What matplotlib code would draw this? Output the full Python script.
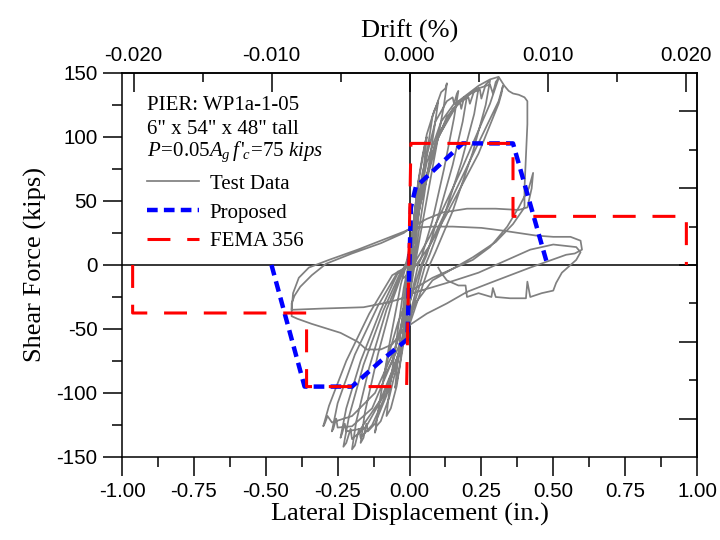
import matplotlib
matplotlib.use("Agg")
import matplotlib.pyplot as plt
from matplotlib.lines import Line2D
from matplotlib.ticker import MultipleLocator, FixedLocator, FormatStrFormatter

plt.rcParams['axes.unicode_minus'] = False
plt.rcParams['mathtext.fontset'] = 'custom'
plt.rcParams['mathtext.rm'] = 'Liberation Serif'
plt.rcParams['mathtext.it'] = 'Liberation Serif:italic'

# ---------------- data ----------------
wall_height_in = 48.0

# hysteresis test data, cycle by cycle (displacement in., force kips)
cycle_01 = [(0.000, 0), (0.008, 20), (0.018, 42), (0.028, 60), (0.032, 66), (0.020, 35), (0.008, 5),
            (0.000, -12), (-0.008, -30), (-0.018, -52), (-0.024, -60), (-0.014, -30), (-0.004, -8), (0.002, 4)]
cycle_02 = [(0.002, 4), (0.015, 35), (0.030, 65), (0.045, 85), (0.055, 96), (0.060, 100), (0.045, 65),
            (0.025, 25), (0.010, 0), (-0.005, -25), (-0.020, -55), (-0.035, -80), (-0.045, -92),
            (-0.050, -96), (-0.035, -62), (-0.018, -25), (-0.004, -2)]
cycle_03 = [(-0.004, -2), (0.012, 28), (0.035, 70), (0.060, 102), (0.085, 120), (0.095, 125), (0.100, 128),
            (0.085, 105), (0.060, 68), (0.035, 30), (0.015, 0), (-0.002, -25), (-0.020, -60), (-0.045, -95),
            (-0.065, -112), (-0.080, -118), (-0.070, -98), (-0.045, -58), (-0.020, -18), (-0.002, 2)]
cycle_04 = [(-0.002, 2), (0.010, 12), (0.035, 50), (0.080, 116), (0.110, 135), (0.125, 138), (0.130, 142),
            (0.120, 125), (0.090, 88), (0.055, 45), (0.025, 8), (0.018, 0), (0.000, -25), (-0.030, -65),
            (-0.070, -103), (-0.100, -122), (-0.115, -126), (-0.120, -131), (-0.105, -108), (-0.070, -62),
            (-0.030, -15), (-0.005, 5)]
cycle_05 = [(-0.005, 5), (0.015, 30), (0.045, 72), (0.090, 112), (0.130, 128), (0.150, 131), (0.155, 126),
            (0.165, 134), (0.170, 136), (0.155, 115), (0.120, 75), (0.080, 35), (0.040, 5), (0.030, 0),
            (0.005, -25), (-0.030, -62), (-0.080, -102), (-0.120, -124), (-0.145, -130), (-0.150, -124),
            (-0.160, -135), (-0.170, -139), (-0.155, -115), (-0.110, -70), (-0.060, -28), (-0.010, 3)]
cycle_06 = [(-0.010, 3), (0.020, 35), (0.060, 80), (0.110, 112), (0.155, 126), (0.175, 128), (0.180, 122),
            (0.190, 131), (0.200, 132), (0.185, 112), (0.150, 78), (0.100, 38), (0.060, 8), (0.045, 0),
            (0.020, -22), (-0.020, -58), (-0.080, -100), (-0.130, -125), (-0.170, -135), (-0.175, -128),
            (-0.190, -141), (-0.200, -144), (-0.185, -122), (-0.140, -80), (-0.080, -35), (-0.020, -2), (0.000, 2)]
cycle_07 = [(0.000, 2), (0.030, 40), (0.080, 88), (0.130, 116), (0.180, 128), (0.205, 131), (0.210, 126),
            (0.225, 136), (0.240, 138), (0.225, 118), (0.180, 80), (0.120, 38), (0.070, 8), (0.055, 0),
            (0.030, -20), (-0.020, -58), (-0.090, -102), (-0.150, -126), (-0.200, -136), (-0.205, -128),
            (-0.220, -139), (-0.230, -142), (-0.210, -118), (-0.160, -78), (-0.090, -35), (-0.030, -5), (0.000, 0)]
cycle_08 = [(0.000, 0), (0.030, 42), (0.090, 95), (0.150, 122), (0.210, 134), (0.245, 137), (0.250, 130),
            (0.265, 141), (0.280, 144), (0.265, 125), (0.220, 88), (0.150, 42), (0.090, 10), (0.070, 0),
            (0.040, -20), (-0.020, -60), (-0.100, -105), (-0.170, -128), (-0.220, -130), (-0.225, -124),
            (-0.235, -132), (-0.240, -135), (-0.220, -112), (-0.170, -75), (-0.100, -35), (-0.040, -6), (0.000, 0)]
cycle_09 = [(0.000, 0), (0.040, 50), (0.100, 100), (0.170, 127), (0.240, 138), (0.280, 141), (0.290, 134),
            (0.300, 143), (0.310, 146), (0.280, 126), (0.180, 74), (0.070, 22), (0.024, 4), (0.015, 0),
            (-0.010, -30), (-0.060, -75), (-0.130, -112), (-0.200, -126), (-0.250, -127), (-0.255, -120),
            (-0.265, -128), (-0.270, -130), (-0.250, -108), (-0.190, -70), (-0.110, -32), (-0.040, -5), (-0.020, -10)]
cycle_10 = [(-0.020, -10), (0.010, -4), (0.070, 15), (0.130, 40), (0.240, 87), (0.310, 126), (0.320, 134),
            (0.325, 140), (0.310, 128), (0.250, 100), (0.160, 58), (0.080, 20), (0.040, 0), (0.000, -30),
            (-0.050, -65), (-0.120, -100), (-0.200, -118), (-0.270, -123), (-0.285, -118), (-0.295, -124),
            (-0.300, -126), (-0.280, -110), (-0.220, -75), (-0.140, -38), (-0.060, -8), (0.000, 0)]
cycle_11 = [(0.000, 0), (0.040, 55), (0.100, 102), (0.170, 128), (0.240, 140), (0.280, 145), (0.310, 147),
            (0.330, 140), (0.345, 136), (0.360, 134), (0.380, 133), (0.400, 131), (0.410, 128), (0.410, 110),
            (0.405, 85), (0.400, 60), (0.400, 45), (0.360, 32), (0.300, 18), (0.220, 6), (0.150, -3),
            (0.080, -12), (0.020, -30), (-0.020, -50), (-0.060, -62), (-0.100, -66), (-0.150, -66),
            (-0.180, -60), (-0.240, -53), (-0.340, -46), (-0.390, -42), (-0.410, -40)]
cycle_12 = [(-0.410, -40), (-0.410, -30), (-0.400, -24), (-0.380, -17), (-0.340, -8), (-0.290, 1),
            (-0.200, 9), (-0.100, 17), (-0.020, 25), (0.010, 30), (0.060, 36), (0.115, 41), (0.200, 44),
            (0.300, 44), (0.380, 43), (0.410, 45), (0.425, 60), (0.430, 72), (0.415, 60), (0.380, 45),
            (0.340, 30), (0.280, 14), (0.220, 4), (0.160, -2), (0.080, -10), (0.020, -18), (-0.010, -25),
            (-0.070, -29), (-0.160, -33), (-0.300, -34), (-0.410, -35)]
cycle_13 = [(-0.410, -35), (-0.405, -22), (-0.385, -10), (-0.350, -2), (-0.280, 4), (-0.180, 12),
            (-0.100, 19), (-0.020, 26), (0.010, 29), (0.080, 30), (0.150, 30), (0.250, 29), (0.320, 27),
            (0.440, 23), (0.500, 22), (0.560, 22), (0.595, 19), (0.600, 12), (0.575, 9), (0.545, 8),
            (0.420, -2), (0.280, -14), (0.200, -21), (0.130, -30), (0.060, -38), (0.000, -47),
            (-0.030, -60), (-0.060, -75), (-0.090, -88)]
cycle_14 = [(-0.090, -88), (-0.070, -68), (-0.040, -45), (-0.010, -28), (0.010, -22), (0.070, -18),
            (0.130, -14), (0.240, -6), (0.340, 4), (0.420, 12), (0.500, 16), (0.580, 14), (0.595, 10),
            (0.580, 4), (0.530, -6), (0.510, -14), (0.500, -20), (0.460, -22), (0.420, -25), (0.410, -13),
            (0.405, -26), (0.350, -26), (0.300, -25), (0.290, -18), (0.285, -25), (0.240, -22),
            (0.200, -25), (0.195, -16), (0.170, -16), (0.130, -12), (0.110, -6), (0.100, -2)]

test_cycles = [cycle_01, cycle_02, cycle_03, cycle_04, cycle_05, cycle_06, cycle_07,
               cycle_08, cycle_09, cycle_10, cycle_11, cycle_12, cycle_13, cycle_14]

# Proposed backbone
proposed_x = [-0.480, -0.365, -0.200, -0.100, -0.007, 0.005, 0.022, 0.185, 0.360, 0.480]
proposed_y = [0, -95, -95, -75, -58, 45, 61, 95, 95, 0]

# FEMA 356 backbone
fema_x = [-0.963, -0.963, -0.358, -0.358, -0.010, 0.005, 0.360, 0.360, 0.963, 0.963]
fema_y = [0, -37.5, -37.5, -95, -95, 95, 95, 38, 38, 0]

x_ticks = [-1.00, -0.75, -0.50, -0.25, 0.00, 0.25, 0.50, 0.75, 1.00]
y_ticks = [-150, -100, -50, 0, 50, 100, 150]
drift_ticks = [-0.020, -0.010, 0.000, 0.010, 0.020]

info_lines = ['PIER: WP1a-1-05', '6" x 54" x 48" tall']
legend_labels = ['Test Data', 'Proposed', 'FEMA 356']

# ---------------- figure ----------------
fig = plt.figure(figsize=(7.2, 5.4), dpi=100)
ax = fig.add_axes([122 / 720, 1 - 457 / 540, (697 - 122) / 720, (457 - 73) / 540])

ax.axhline(0, color='black', lw=1.1, zorder=1)
ax.axvline(0, color='black', lw=1.1, zorder=1)

test_x = [p[0] for c in test_cycles for p in c]
test_y = [p[1] for c in test_cycles for p in c]
ax.plot(test_x, test_y, color='#808080', lw=1.25, zorder=2, solid_joinstyle='round')

ax.plot(proposed_x, proposed_y, color='#0000ff', lw=3.2, dashes=(2.4, 1.4), zorder=3)
ax.plot(fema_x, fema_y, color='#ff0000', lw=2.2, dashes=(7.5, 5.5), zorder=4)

ax.set_xlim(-1, 1)
ax.set_ylim(-150, 150)

sans = 'Liberation Sans'
serif = 'Liberation Serif'

ax.xaxis.set_major_locator(FixedLocator(x_ticks))
ax.xaxis.set_minor_locator(MultipleLocator(0.125))
ax.yaxis.set_major_locator(FixedLocator(y_ticks))
ax.yaxis.set_minor_locator(MultipleLocator(25))
ax.xaxis.set_major_formatter(FormatStrFormatter('%.2f'))
ax.yaxis.set_major_formatter(FormatStrFormatter('%d'))
ax.tick_params(which='major', direction='out', length=13.7, width=1.1, labelsize=14.8, pad=4)
ax.tick_params(which='minor', direction='out', length=7, width=1.1)
for lab in ax.get_xticklabels() + ax.get_yticklabels():
    lab.set_fontfamily(sans)

for s in ax.spines.values():
    s.set_linewidth(1.1)

ax.set_xlabel('Lateral Displacement (in.)', fontfamily=serif, fontsize=19, labelpad=2)
ax.set_ylabel('Shear Force (kips)', fontfamily=serif, fontsize=19, labelpad=7)

# top drift axis
top = ax.secondary_xaxis('top', functions=(lambda d: d / wall_height_in, lambda r: r * wall_height_in))
top.xaxis.set_major_locator(FixedLocator(drift_ticks))
top.xaxis.set_minor_locator(MultipleLocator(0.005))
top.xaxis.set_major_formatter(FormatStrFormatter('%.3f'))
top.tick_params(which='major', direction='in', length=13.7, width=1.1, labelsize=14.8, pad=6)
top.tick_params(which='minor', direction='in', length=6.5, width=1.1)
for lab in top.get_xticklabels():
    lab.set_fontfamily(sans)
top.set_xlabel('Drift (%)', fontfamily=serif, fontsize=19, labelpad=6)
top.spines['top'].set_linewidth(1.1)

# right axis (ticks only)
right = ax.secondary_yaxis('right')
right.yaxis.set_major_locator(FixedLocator([-120, -60, 0, 60, 120]))
right.yaxis.set_minor_locator(FixedLocator([-90, -30, 30, 90]))
right.tick_params(which='major', direction='in', length=13, width=1.1, labelright=False)
right.tick_params(which='minor', direction='in', length=6, width=1.1)
right.spines['right'].set_linewidth(1.1)

# info text
tx = (147 - 122) / 575
ax.text(tx, (457 - 106) / 384, info_lines[0], transform=ax.transAxes, fontfamily=serif, fontsize=15, va='center')
ax.text(tx, (457 - 129) / 384, info_lines[1], transform=ax.transAxes, fontfamily=serif, fontsize=15, va='center')
ax.text(tx, (457 - 152) / 384, r"$\mathit{P\!=\!0.05A_g\, f\,'_{\!c}\!=\!75\ kips}$",
        transform=ax.transAxes, fontsize=15, va='center')

handles = [Line2D([], [], color='#808080', lw=1.25),
           Line2D([], [], color='#0000ff', lw=3.2, dashes=(2.4, 1.4)),
           Line2D([], [], color='#ff0000', lw=2.2, dashes=(7.5, 5.5))]
ax.legend(handles, legend_labels, loc='upper left', bbox_to_anchor=(tx, (457 - 174) / 384),
          frameon=False, prop={'family': serif, 'size': 15}, handlelength=2.5, handletextpad=0.5,
          labelspacing=0.45, borderpad=0, borderaxespad=0)

fig.savefig('out.png', dpi=100)
